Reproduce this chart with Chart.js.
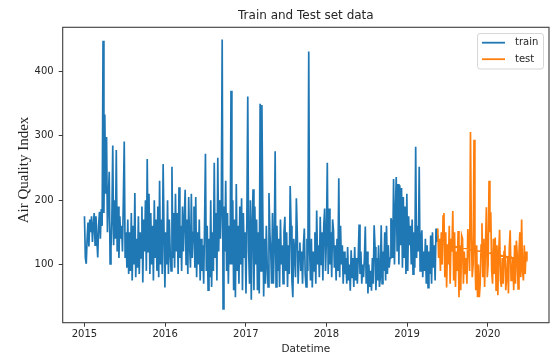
<!DOCTYPE html>
<html>
<head>
<meta charset="utf-8">
<script src="https://cdn.jsdelivr.net/npm/chart.js@4.4.1/dist/chart.umd.min.js"></script>
<style>
  html, body { margin: 0; padding: 0; background: #fff; }
  canvas { display: block; }
</style>
</head>
<body>
<canvas id="aqi" width="553" height="356"></canvas>
<script>
// Daily AQI readings, sampled every few days.
const trainStart = '2015-01-01';
const testStart = '2019-05-20';
const stepDays = 4;

const trainValues = [
  175,110,101,140,165,128,170,150,175,135,
  160,180,130,175,140,111,160,182,140,186,
  160,448,180,333,210,298,150,200,244,101,
  125,170,285,130,200,140,278,120,190,110,
  175,140,160,120,200,291,110,150,95,170,
  85,150,90,180,75,160,100,211,80,140,
  95,175,85,150,110,190,72,170,120,200,
  90,264,120,210,85,180,100,160,75,200,
  110,170,90,190,80,230,100,170,85,256,
  150,64,150,100,200,85,170,120,90,252,
  110,180,95,210,120,180,85,220,110,160,
  90,190,120,170,216,100,170,85,205,130,
  95,210,110,150,190,95,205,80,150,100,
  170,75,140,90,130,70,160,272,90,160,
  60,140,80,200,65,150,90,258,110,180,
  75,266,120,200,140,190,450,31,190,120,
  230,90,180,70,160,100,370,100,200,60,
  170,49,225,90,160,70,190,100,203,60,
  180,110,150,55,170,361,120,70,200,45,
  160,217,60,190,100,170,60,150,55,350,
  90,348,180,50,140,70,160,100,65,211,
  150,120,70,180,70,130,276,65,160,90,
  140,65,170,100,130,70,150,174,90,150,
  65,130,85,222,160,75,49,140,120,80,
  203,150,70,120,134,90,120,70,130,156,
  85,65,140,90,431,120,75,140,64,120,
  90,150,70,184,100,130,80,174,100,150,
  75,160,187,90,140,258,85,187,100,150,
  80,170,153,95,130,75,140,90,234,80,
  160,100,130,70,120,85,110,70,127,75,
  100,59,122,80,110,65,127,75,110,70,
  111,162,85,120,70,100,80,110,159,70,
  120,55,100,65,90,59,110,70,161,127,
  60,110,75,130,65,80,161,70,120,90,
  150,75,160,85,130,95,110,172,165,110,
  233,100,180,236,120,225,100,223,130,219,
  95,205,110,190,85,210,90,175,130,160,
  100,170,85,150,95,283,110,160,120,252,
  90,140,153,80,120,90,140,70,130,64,
  120,85,145,70,150,95,130,75,156,135,
  145
];

const testValues = [
  156,110,140,90,150,100,175,180,80,150,
  64,130,100,160,70,140,120,183,75,150,
  65,120,90,152,49,130,60,145,140,70,
  120,85,110,70,155,130,90,306,150,80,
  100,294,120,60,130,49,100,49,70,130,
  164,80,140,65,130,189,80,100,230,150,
  181,90,70,140,85,142,60,130,52,120,
  154,75,65,110,70,120,130,60,80,110,
  55,125,153,75,80,110,60,130,70,137,
  115,62,120,150,80,170,90,75,130,85,
  120,106
];

// The test rows are not strictly ordered: one reading from late May 2019 comes last.
const testTailDates = ['2019-05-24'];
const testTailValues = [133];

const seriesNames = ['train', 'test'];
const seriesColors = ['#1f77b4', '#ff7f0e'];
const yearTicks = [2015, 2016, 2017, 2018, 2019, 2020];
const aqiTicks = [100, 200, 300, 400];

function toYear(ms) {
  const d = new Date(ms);
  const y = d.getUTCFullYear();
  const s = Date.UTC(y, 0, 1), e = Date.UTC(y + 1, 0, 1);
  return y + (ms - s) / (e - s);
}
function dateMs(str) { return Date.parse(str + 'T00:00:00Z'); }
function seriesPoints(start, values) {
  const t0 = dateMs(start);
  return values.map((v, i) => ({ x: toYear(t0 + i * stepDays * 86400000), y: v }));
}

const trainPoints = seriesPoints(trainStart, trainValues);
const testPoints = seriesPoints(testStart, testValues).concat(
  testTailDates.map((d, i) => ({ x: toYear(dateMs(d)), y: testTailValues[i] }))
);

const SANS = '"DejaVu Sans", sans-serif';
const INK = '#262626';

// Frame, title, axis titles and legend in the pyplot look.
const decor = {
  id: 'decor',
  afterDatasetsDraw(chart) {
    const { ctx, chartArea: a } = chart;
    ctx.save();
    ctx.strokeStyle = '#3c3c3c';
    ctx.lineWidth = 1.1;
    ctx.strokeRect(a.left, a.top, a.right - a.left, a.bottom - a.top);

    const cx = (a.left + a.right) / 2;
    ctx.fillStyle = INK;
    ctx.textAlign = 'center';
    ctx.textBaseline = 'middle';
    ctx.font = '12px ' + SANS;
    ctx.fillText('Train and Test set data', cx, 16);

    ctx.font = '10.5px ' + SANS;
    ctx.fillText('Datetime', cx, 349.5);

    ctx.save();
    ctx.translate(24, 170);
    ctx.rotate(-Math.PI / 2);
    ctx.font = '15px "Liberation Serif", "Times New Roman", serif';
    ctx.fillText('Air Quality Index', 0, 0);
    ctx.restore();

    // legend
    const bx = 477.5, by = 33.5, bw = 66, bh = 35.5, r = 2.5;
    ctx.beginPath();
    ctx.moveTo(bx + r, by);
    ctx.arcTo(bx + bw, by, bx + bw, by + bh, r);
    ctx.arcTo(bx + bw, by + bh, bx, by + bh, r);
    ctx.arcTo(bx, by + bh, bx, by, r);
    ctx.arcTo(bx, by, bx + bw, by, r);
    ctx.closePath();
    ctx.fillStyle = 'rgba(255,255,255,0.8)';
    ctx.fill();
    ctx.strokeStyle = '#d6d6d6';
    ctx.lineWidth = 1;
    ctx.stroke();

    chart.data.datasets.forEach((ds, i) => {
      const y = 42.7 + i * 16.5;
      ctx.beginPath();
      ctx.moveTo(482, y);
      ctx.lineTo(505, y);
      ctx.strokeStyle = ds.borderColor;
      ctx.lineWidth = 1.8;
      ctx.stroke();
      ctx.fillStyle = INK;
      ctx.textAlign = 'left';
      ctx.textBaseline = 'middle';
      ctx.font = '10px ' + SANS;
      ctx.fillText(ds.label, 515, y);
    });
    ctx.restore();
  }
};

new Chart(document.getElementById('aqi'), {
  type: 'line',
  data: {
    datasets: [
      { label: seriesNames[0], data: trainPoints, borderColor: seriesColors[0], order: 2 },
      { label: seriesNames[1], data: testPoints, borderColor: seriesColors[1], order: 1 }
    ]
  },
  options: {
    responsive: false,
    devicePixelRatio: 1,
    animation: false,
    events: [],
    layout: { padding: { top: 27.3, right: 4, left: 0, bottom: 0 } },
    elements: {
      line: { borderWidth: 1.7, tension: 0, fill: false, borderJoinStyle: 'miter' },
      point: { radius: 0 }
    },
    plugins: { legend: { display: false }, tooltip: { enabled: false }, title: { display: false } },
    scales: {
      x: {
        type: 'linear',
        position: 'bottom',
        min: 2014.73,
        max: 2020.76,
        afterBuildTicks: (s) => { s.ticks = yearTicks.map(v => ({ value: v })); },
        afterFit: (s) => { s.height = 33.3; },
        border: { display: false },
        grid: { drawOnChartArea: false, drawTicks: true, tickLength: 4, tickColor: '#3c3c3c', tickWidth: 1 },
        ticks: { color: INK, font: { family: SANS, size: 10 }, padding: 2, maxRotation: 0, autoSkip: false,
                 callback: (v) => String(v) }
      },
      y: {
        type: 'linear',
        min: 9.4,
        max: 468.8,
        afterBuildTicks: (s) => { s.ticks = aqiTicks.map(v => ({ value: v })); },
        afterFit: (s) => { s.width = 62.7; },
        border: { display: false },
        grid: { drawOnChartArea: false, drawTicks: true, tickLength: 4, tickColor: '#3c3c3c', tickWidth: 1 },
        ticks: { color: INK, font: { family: SANS, size: 10 }, padding: 5, autoSkip: false,
                 callback: (v) => String(v) }
      }
    }
  },
  plugins: [decor]
});
</script>
</body>
</html>
